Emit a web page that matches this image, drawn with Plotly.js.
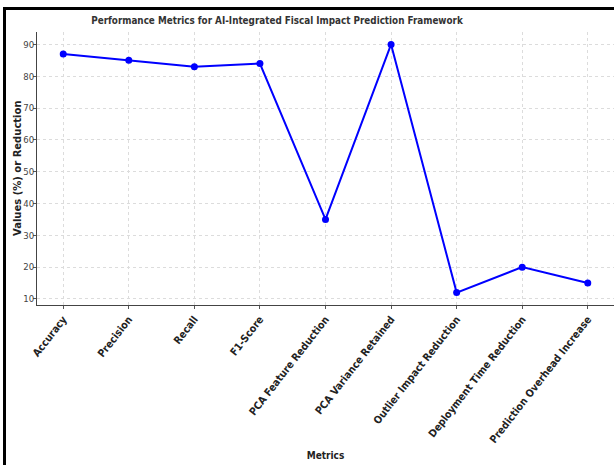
<!DOCTYPE html>
<html>
<head>
<meta charset="utf-8">
<script src="https://cdn.plot.ly/plotly-3.0.1.min.js"></script>
<style>
  html, body { margin: 0; padding: 0; background: #fff; }
  #wrap { position: relative; width: 614px; height: 465px; overflow: hidden; }
  #chart { position: absolute; left: 0; top: 0; width: 614px; height: 465px; }
  #frame { position: absolute; left: 3px; top: 7px; width: 620px; height: 470px;
           border-top: 3px solid #000; border-left: 3px solid #000; pointer-events: none; }
</style>
</head>
<body>
<div id="wrap">
  <div id="chart"></div>
  <div id="frame"></div>
</div>
<script>
const metrics = [
  "Accuracy", "Precision", "Recall", "F1-Score", "PCA Feature Reduction",
  "PCA Variance Retained", "Outlier Impact Reduction", "Deployment Time Reduction",
  "Prediction Overhead Increase"
];
const values = [87, 85, 83, 84, 35, 90, 12, 20, 15];
const yTicks = [10, 20, 30, 40, 50, 60, 70, 80, 90];

const trace = {
  x: metrics.map((_, i) => i),
  y: values,
  type: "scatter",
  mode: "lines+markers",
  line: { color: "#0000ff", width: 2 },
  marker: { color: "#0000ff", size: 7 },
  hoverinfo: "skip"
};

const layout = {
  width: 614, height: 465,
  paper_bgcolor: "#ffffff", plot_bgcolor: "#ffffff",
  showlegend: false,
  margin: { l: 37, r: 0, t: 32, b: 160 },
  title: {
    text: "<b>Performance Metrics for AI-Integrated Fiscal Impact Prediction Framework</b>",
    font: { family: "DejaVu Sans Condensed", size: 9.8, color: "#333333" },
    xref: "container", yref: "container",
    x: 277 / 614, xanchor: "center",
    y: 1 - 21 / 465, yanchor: "middle"
  },
  xaxis: {
    tickmode: "array",
    tickvals: metrics.map((_, i) => i),
    ticktext: metrics,
    range: [-0.4, 8.4],
    tickangle: -52,
    tickfont: { family: "DejaVu Sans Condensed", size: 10.5, color: "#222222", weight: "bold" },
    ticks: "outside", ticklen: 3, tickcolor: "#555555",
    showline: true, linecolor: "#444444", linewidth: 1,
    showgrid: true, gridcolor: "#dcdcdc", griddash: "dot", gridwidth: 1,
    zeroline: false,
    title: {
      text: "<b>Metrics</b>",
      font: { family: "DejaVu Sans Condensed", size: 10, color: "#222222" },
      standoff: 7
    }
  },
  yaxis: {
    tickmode: "array",
    tickvals: yTicks,
    ticktext: yTicks.map(String),
    range: [8.1, 93.9],
    tickfont: { family: "DejaVu Sans Condensed", size: 9.5, color: "#444444" },
    ticks: "outside", ticklen: 3, tickcolor: "#555555",
    ticklabelstandoff: -3,
    showline: true, linecolor: "#444444", linewidth: 1,
    showgrid: true, gridcolor: "#dcdcdc", griddash: "dot", gridwidth: 1,
    zeroline: false
  },
  annotations: [{
    text: "<b>Values (%) or Reduction</b>",
    font: { family: "DejaVu Sans", size: 10, color: "#222222" },
    xref: "paper", yref: "paper",
    x: (17.5 - 37) / 577, y: 0.5,
    xanchor: "center", yanchor: "middle",
    textangle: -90, showarrow: false
  }]
};

Plotly.newPlot("chart", [trace], layout, { displayModeBar: false, staticPlot: true });
</script>
</body>
</html>
